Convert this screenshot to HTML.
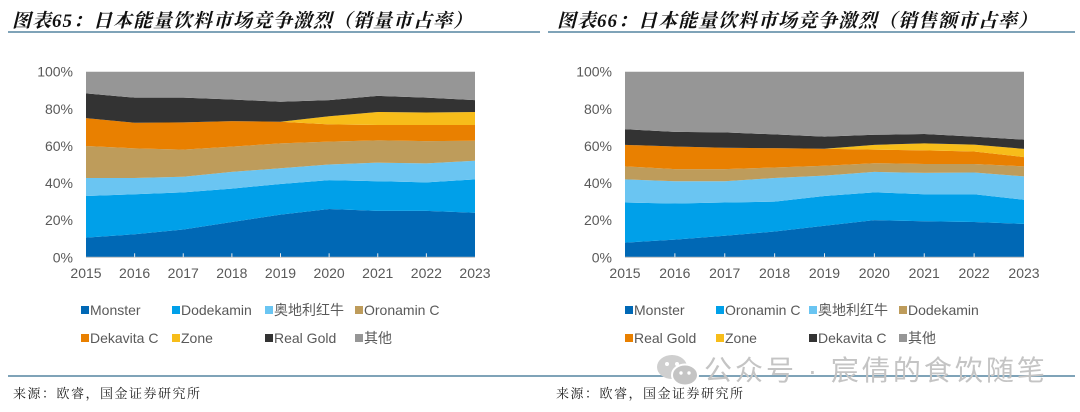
<!DOCTYPE html>
<html><head><meta charset="utf-8">
<style>
html,body{margin:0;padding:0;background:#fff;}
body{width:1080px;height:412px;overflow:hidden;position:relative;font-family:"Liberation Sans","Noto Sans CJK SC",sans-serif;}
.title{position:absolute;top:6px;font-size:19px;font-weight:bold;font-style:italic;color:#111;font-family:"Liberation Serif","Noto Serif CJK SC",serif;letter-spacing:1px;}
.src{position:absolute;top:383px;font-size:13px;color:#222;font-family:"Liberation Serif","Noto Serif CJK SC",serif;letter-spacing:1.5px;}
.hline{position:absolute;height:2px;background:#7fa3b8;}
.wm{position:absolute;left:704px;top:349px;font-size:28px;color:#c4c4c4;font-family:"Liberation Sans","Noto Sans CJK SC",sans-serif;letter-spacing:3px;}
</style></head><body>
<div class="title" style="left:12px;">图表65：日本能量饮料市场竞争激烈（销量市占率）</div>
<div class="title" style="left:557px;">图表66：日本能量饮料市场竞争激烈（销售额市占率）</div>
<div class="hline" style="left:8px;width:532px;top:31px;"></div>
<div class="hline" style="left:548px;width:527px;top:31px;"></div>
<div class="hline" style="left:8px;width:532px;top:375px;"></div>
<div class="hline" style="left:540px;width:535px;top:375px;"></div>
<div class="src" style="left:13px;">来源：欧睿，国金证券研究所</div>
<div class="src" style="left:556px;">来源：欧睿，国金证券研究所</div>
<svg id="svg" width="1080" height="412" style="position:absolute;left:0;top:0"></svg>
<svg width="50" height="36" style="position:absolute;left:654px;top:352px">
<ellipse cx="18" cy="15" rx="15" ry="12" fill="#cfcfcf"/><ellipse cx="31" cy="23" rx="13" ry="10.5" fill="#c4c4c4" stroke="#fff" stroke-width="2"/>
<circle cx="13" cy="12" r="2" fill="#fff"/><circle cx="23" cy="12" r="2" fill="#fff"/><circle cx="27" cy="21" r="1.7" fill="#fff"/><circle cx="35" cy="21" r="1.7" fill="#fff"/></svg>
<div class="wm">公众号 · 宸倩的食饮随笔</div>
<script>
const years = ['2015','2016','2017','2018','2019','2020','2021','2022','2023'];
const yTicks = ['0%','20%','40%','60%','80%','100%'];
// Left chart (volume share), individual layer values %
const L_monster   = [10.6,12.4,15.0,19.0,23.0,26.0,25.0,25.0,24.0];
const L_dodekamin = [22.4,21.6,20.0,18.0,16.5,15.6,16.0,15.4,18.0];
const L_redbull   = [9.7,8.7,8.4,9.0,8.5,8.4,10.0,10.2,10.0];
const L_oronamin  = [17.3,16.0,14.6,13.6,13.4,12.3,12.0,12.0,10.8];
const L_dekavita  = [15.0,13.8,14.7,13.8,11.6,9.3,8.3,8.7,8.5];
const L_zone      = [0,0,0,0,0,4.4,7.0,6.7,7.0];
const L_realgold  = [13.3,13.5,13.3,11.6,10.8,8.7,8.7,8.0,6.4];
const L_other     = [11.7,14.0,14.0,15.0,16.2,15.3,13.0,14.0,15.3];
// Right chart (value share)
const R_monster   = [7.9,9.5,11.6,13.9,17.0,20.0,19.4,19.0,18.0];
const R_oronamin  = [21.6,19.5,17.9,16.1,16.0,15.0,14.6,15.0,13.0];
const R_redbull   = [12.5,12.0,11.5,12.7,11.0,11.0,11.5,11.7,12.6];
const R_dodekamin = [7.0,6.5,6.5,5.7,5.3,4.7,4.8,4.6,5.4];
const R_realgold  = [11.6,12.2,11.5,10.4,9.2,7.3,7.3,6.7,5.0];
const R_zone      = [0,0,0,0,0,2.6,3.8,3.7,4.4];
const R_dekavita  = [8.4,7.9,8.3,7.4,6.5,5.4,5.0,4.3,5.0];
const R_other     = [31.0,32.4,32.7,33.8,35.0,34.0,33.6,35.0,36.6];

const C = {monster:'#0068b5',dode:'#00a0e9',rb:'#6ac5f2',oro:'#be9c5b',dek:'#e98000',zone:'#f7bd1a',rg:'#333333',oth:'#969696'};
const NS='http://www.w3.org/2000/svg';
const svg=document.getElementById('svg');
function mk(t,a){const e=document.createElementNS(NS,t);for(const k in a)e.setAttribute(k,a[k]);svg.appendChild(e);return e;}

function chart(prefix,x0,x1,series,legend,lx){
  const yB=257.3,yT=71.7;
  const xs=i=>x0+(x1-x0)*i/(years.length-1);
  const ys=v=>yB-(yB-yT)*v/100;
  let base=years.map(()=>0);
  series.forEach(s=>{
    const top=base.map((b,i)=>b+s.v[i]);
    let d='M'+years.map((_,i)=>xs(i)+','+ys(top[i])).join(' L');
    for(let i=years.length-1;i>=0;i--) d+=' L'+xs(i)+','+ys(base[i]);
    const p=mk('path',{d:d+'Z',fill:s.c});
    
    
    base=top;
  });
  const ax=mk('line',{x1:x0,x2:x1,y1:yB,y2:yB,stroke:'#bfbfbf','stroke-width':1});
  
  
  years.forEach((y,i)=>{
    if(i>0&&i<years.length-1){const tk=mk('line',{x1:xs(i),x2:xs(i),y1:yB,y2:yB-4,stroke:'#e8e8e8','stroke-width':1});
    
    }
    const t=mk('text',{x:xs(i),y:278,'text-anchor':'middle','font-size':14,fill:'#595959'});
    t.textContent=y;
    
    
  });
  yTicks.forEach((l,i)=>{
    const t=mk('text',{x:x0-13,y:ys(i*20)+5,'text-anchor':'end','font-size':14,fill:'#595959'});
    t.textContent=l;
    
    
  });
  const cols=[0,91,184,274];
  legend.forEach((s,i)=>{
    const x=lx+cols[i%4], y=i<4?311:339;
    const r=mk('rect',{x:x,y:y-5,width:8,height:8,fill:s.c});
    
    
    const t=mk('text',{x:x+9,y:y+4,'font-size':14,fill:'#595959'});
    t.textContent=s.l;
    
    
  });
}
const Ls=[{n:'monster',l:'Monster',c:C.monster,v:L_monster},{n:'dodekamin',l:'Dodekamin',c:C.dode,v:L_dodekamin},{n:'redbull',l:'奥地利红牛',c:C.rb,v:L_redbull},{n:'oronamin',l:'Oronamin C',c:C.oro,v:L_oronamin},{n:'dekavita',l:'Dekavita C',c:C.dek,v:L_dekavita},{n:'zone',l:'Zone',c:C.zone,v:L_zone},{n:'realgold',l:'Real Gold',c:C.rg,v:L_realgold},{n:'other',l:'其他',c:C.oth,v:L_other}];
chart('left',86,475,Ls,Ls,81);
const Rs=[{n:'monster',l:'Monster',c:C.monster,v:R_monster},{n:'oronamin',l:'Oronamin C',c:C.dode,v:R_oronamin},{n:'redbull',l:'奥地利红牛',c:C.rb,v:R_redbull},{n:'dodekamin',l:'Dodekamin',c:C.oro,v:R_dodekamin},{n:'realgold',l:'Real Gold',c:C.dek,v:R_realgold},{n:'zone',l:'Zone',c:C.zone,v:R_zone},{n:'dekavita',l:'Dekavita C',c:C.rg,v:R_dekavita},{n:'other',l:'其他',c:C.oth,v:R_other}];
chart('right',625,1024,Rs,Rs,625);
</script>
</body></html>
